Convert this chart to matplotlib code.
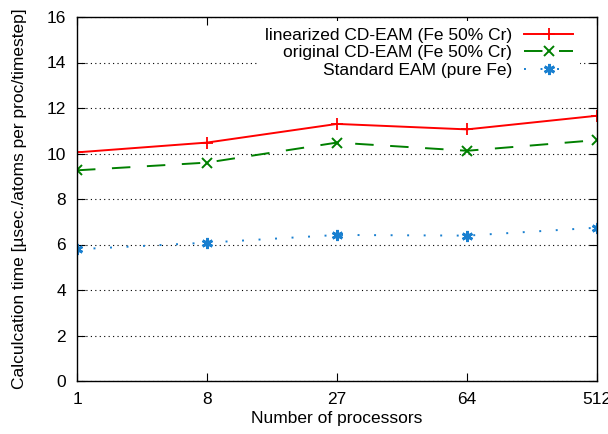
import matplotlib
matplotlib.use("Agg")
import matplotlib.pyplot as plt
import numpy as np

plt.rcParams['font.family'] = ['Liberation Sans', 'DejaVu Sans']

procs = ['1', '8', '27', '64', '512']
lin_cd = [10.05, 10.48, 11.3, 11.06, 11.66]
orig_cd = [9.26, 9.6, 10.48, 10.12, 10.59]
std_eam = [5.79, 6.08, 6.42, 6.39, 6.74]

x = np.arange(len(procs))
fs = 12.5

fig = plt.figure(figsize=(6.08, 4.34), dpi=100)
ax = fig.add_axes([77/608, 1-381/434, 520/608, 364/434])

ax.plot(x, lin_cd, color='#ff0000', lw=1.4, marker='+', ms=9, mew=1.3,
        label='linearized CD-EAM (Fe 50% Cr)')
ax.plot(x, orig_cd, color='#008000', lw=1.4, ls=(0, (9.5, 8.5)), marker='x', ms=7,
        mew=1.4, label='original CD-EAM (Fe 50% Cr)')
ax.plot(x, std_eam, color='#1a80d0', lw=1.4, ls=(0, (1, 7.5)), marker=(6, 2, 0),
        ms=8, mew=2.0, mec='#1a80d0', label='Standard EAM (pure Fe)')

ax.set_xlim(0, len(procs)-1)
ax.set_ylim(0, 16)
ax.set_xticks(x)
ax.set_xticklabels(procs)
ax.set_yticks(np.arange(0, 17, 2))
ax.yaxis.grid(True, color='black', lw=0.8, ls=(0, (1, 3)))
ax.set_axisbelow(True)
ax.tick_params(direction='in', top=True, right=True, length=6, labelsize=fs)
ax.tick_params(axis='y', pad=8)
ax.tick_params(axis='x', pad=8)
for s in ax.spines.values():
    s.set_linewidth(1.0)

ax.set_xlabel('Number of processors', fontsize=fs, labelpad=3)
ax.set_ylabel('Calculcation time [µsec./atoms per proc/timestep]', fontsize=fs, labelpad=14)

leg = ax.legend(loc='upper right', bbox_to_anchor=(0.967, 0.99), markerfirst=False,
                fontsize=fs, frameon=True, handlelength=2.8, borderaxespad=0,
                borderpad=0.4, labelspacing=0.15, handletextpad=0.7, fancybox=False)
leg.get_frame().set_edgecolor('none')
leg.get_frame().set_facecolor('white')
leg.get_frame().set_alpha(1)
for t in leg.get_texts():
    t.set_ha('right')
leg._legend_box.align = 'right'

fig.savefig('out.png', dpi=100)
